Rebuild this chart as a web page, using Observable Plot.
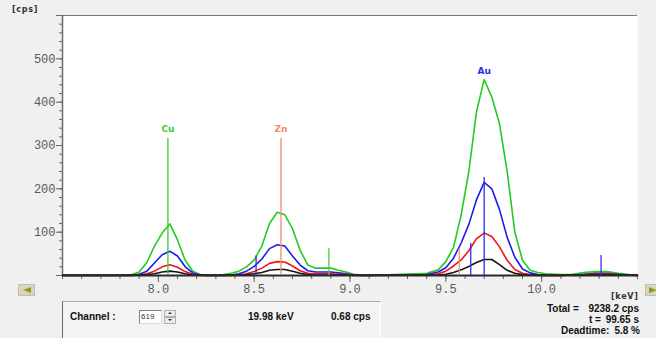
<!DOCTYPE html>
<html><head><meta charset="utf-8">
<script src="https://cdn.jsdelivr.net/npm/d3@7"></script>
<script src="https://cdn.jsdelivr.net/npm/@observablehq/plot@0.6"></script>
<style>
body{margin:0;background:#f0f0f0;}
#wrap{position:relative;width:656px;height:338px;overflow:hidden;font-family:"Liberation Sans",Arial,sans-serif;background:#f0f0f0;}
#chart{position:absolute;left:0;top:0;}
.t{position:absolute;font-weight:bold;font-size:10px;color:#111;white-space:pre;line-height:11px;}
.u{position:absolute;font-family:"DejaVu Sans",sans-serif;font-weight:bold;font-size:8px;color:#333;letter-spacing:0.7px;line-height:10px;}
#panel{position:absolute;left:62px;top:301px;width:317px;height:40px;border-top:1px solid #a8a8a8;border-left:1px solid #6c6c6c;border-right:1px solid #ffffff;background:#f3f3f3;}
#inp{position:absolute;left:139px;top:310px;width:20px;height:12px;background:#fff;border-top:1px solid #808080;border-left:1px solid #808080;border-bottom:1px solid #dcdcdc;border-right:1px solid #dcdcdc;font-size:8px;line-height:12px;color:#333;padding-left:1px;box-sizing:content-box;}
.spin{position:absolute;left:164px;width:10px;height:5px;background:#ececec;border:1px solid #b0b0b0;}
.spin .tri{left:3px;}
.btn{position:absolute;top:284px;width:17px;height:12px;background:#d6d6c4;border:1px solid #c0c0b0;box-sizing:border-box;}
.tri{position:absolute;width:0;height:0;}
</style></head><body>
<div id="wrap">
  <div id="chart"></div>
  <div class="u" style="left:12px;top:5px">[cps]</div>
  <div class="u" style="left:611px;top:292px">[keV]</div>
  <div class="btn" style="left:18px"><div class="tri" style="left:4px;top:2px;border-top:3.5px solid transparent;border-bottom:3.5px solid transparent;border-right:8px solid #9a9a10;"></div></div>
  <div class="btn" style="left:645px"><div class="tri" style="left:3px;top:2px;border-top:3.5px solid transparent;border-bottom:3.5px solid transparent;border-left:8px solid #9a9a10;"></div></div>
  <div id="panel"></div>
  <div class="t" style="left:70px;top:311px">Channel :</div>
  <div id="inp">619</div>
  <div class="spin" style="top:310px"><div class="tri" style="top:1px;border-left:2px solid transparent;border-right:2px solid transparent;border-bottom:2px solid #333;"></div></div>
  <div class="spin" style="top:317px"><div class="tri" style="top:1px;border-left:2px solid transparent;border-right:2px solid transparent;border-top:2px solid #333;"></div></div>
  <div class="t" style="left:248px;top:311px">19.98 keV</div>
  <div class="t" style="left:331px;top:311px">0.68 cps</div>
  <div class="t" style="left:547px;top:303px">Total =</div>
  <div class="t" style="right:17px;top:303px">9238.2 cps</div>
  <div class="t" style="left:589px;top:314px">t =</div>
  <div class="t" style="right:17px;top:314px">99.65 s</div>
  <div class="t" style="left:561px;top:325px">Deadtime:</div>
  <div class="t" style="right:16px;top:325px">5.8 %</div>
</div>
<script>
// spectrum energies (keV)
const energy = [7.50,7.80,7.86,7.90,7.94,7.98,8.02,8.06,8.10,8.14,8.18,8.22,8.26,8.34,8.38,8.42,8.46,8.50,8.54,8.58,8.62,8.66,8.70,8.74,8.78,8.82,8.86,8.90,8.94,8.98,9.02,9.06,9.10,9.40,9.46,9.50,9.54,9.58,9.62,9.66,9.70,9.74,9.78,9.82,9.86,9.90,9.94,9.98,10.02,10.10,10.16,10.22,10.28,10.34,10.40,10.46,10.50];
// counts (cps) of the four spectra
const greenSpec = [0,0,2,8,30,68,98,119,82,35,10,2,0,2,5,10,20,36,68,120,146,140,108,58,24,17,17,17,12,8,3,1,0,5,13,32,65,140,240,378,452,412,350,240,100,35,12,7,4,2,3,7,9,9,5,2,1];
const blueSpec  = [0,0,0,3,10,29,48,56,45,20,6,1,0,0,1,4,10,21,38,62,71,68,45,24,11,8,8,8,6,4,1,0,0,2,8,18,40,75,118,175,215,200,152,88,42,15,6,2,0,0,1,3,5,5,3,1,0];
const redSpec   = [0,0,0,1,4,10,20,25,19,9,3,0,0,0,0,1,4,9,17,28,32,31,22,11,5,4,4,4,3,2,0,0,0,1,4,10,22,36,57,85,98,90,66,35,14,5,2,0,0,0,1,2,4,4,2,1,0];
const blackSpec = [1,1,1,1,2,4,8,10,8,4,1,1,1,1,1,1,2,4,7,12,14,14,10,5,2,1,1,1,1,1,1,1,1,1,1,3,7,13,21,30,37,37,25,12,5,2,1,1,1,1,1,1,2,2,1,1,1];
const seriesValues = [greenSpec, blueSpec, redSpec, blackSpec];
const seriesColors = ["#22cc22", "#1c1cee", "#ee1818", "#141414"];

// element markers
const elementNames  = ["Cu", "Zn", "Au"];
const elementEnergy = [8.05, 8.64, 9.70];
const elementHeight = [316, 316, 226];
const elementColors = ["#33cc33", "#ee8a66", "#2c2cee"];
// small unlabeled markers
const minorEnergy = [8.51, 8.89, 9.57, 9.63, 10.31];
const minorHeight = [45, 62, 62, 74, 46];
const minorColors = ["#3434dd", "#44cc44", "#ee9070", "#3434dd", "#3434dd"];

// axis ticks
const yMajor = [0, 100, 200, 300, 400, 500, 600];
const yLabeled = [100, 200, 300, 400, 500];
const yMinor = d3.range(0, 601, 20);
const xMajor = [8.0, 8.5, 9.0, 9.5, 10.0];
const xMinor = d3.range(75, 106).map(d => d / 10);

const marks = [
  Plot.frame({fill: "white", stroke: null}),
  Plot.ruleY([600], {stroke: "#7a7a7a"}),
  Plot.axisY({ticks: yMinor, tickSize: 3, tickFormat: () => "", stroke: "#666", label: null}),
  Plot.axisY({ticks: yMajor, tickSize: 6, tickPadding: 1, tickFormat: d => yLabeled.includes(d) ? String(d) : "", stroke: "#666", fill: "#5a5a5a", label: null}),
  Plot.axisX({ticks: xMinor, tickSize: 4, tickFormat: () => "", stroke: "#666", label: null}),
  Plot.axisX({ticks: xMajor, tickSize: 7, tickPadding: 2, tickFormat: d => d.toFixed(1), stroke: "#666", fill: "#5a5a5a", label: null}),
  Plot.ruleX([7.5], {stroke: "#6a6a6a", strokeWidth: 1.5})
];

seriesValues.forEach((vals, s) => {
  const rows = energy.map((e, i) => ({e, c: vals[i]}));
  marks.push(Plot.line(rows, {x: "e", y: "c", stroke: seriesColors[s], strokeWidth: 1.6, strokeLinejoin: "round"}));
});

marks.push(Plot.ruleY([0], {stroke: "#2a2a2a", strokeWidth: 2}));

minorEnergy.forEach((e, i) => {
  marks.push(Plot.ruleX([{e, h: minorHeight[i]}], {x: "e", y1: 0, y2: "h", stroke: minorColors[i], strokeWidth: 1.3}));
});

elementEnergy.forEach((e, i) => {
  // label sits above the taller of the marker line and the local spectrum maximum
  let localMax = 0;
  energy.forEach((en, j) => { if (Math.abs(en - e) <= 0.05) seriesValues.forEach(v => { localMax = Math.max(localMax, v[j]); }); });
  const top = Math.max(elementHeight[i], localMax);
  marks.push(Plot.ruleX([{e, h: elementHeight[i]}], {x: "e", y1: 0, y2: "h", stroke: elementColors[i], strokeWidth: 1.3}));
  marks.push(Plot.text([{e, top, name: elementNames[i]}], {x: "e", y: "top", text: "name", dy: -9, fill: elementColors[i], fontWeight: "bold", fontSize: 9, fontFamily: "DejaVu Sans"}));
});

const chart = Plot.plot({
  width: 656,
  height: 300,
  marginLeft: 62,
  marginRight: 19,
  marginTop: 15,
  marginBottom: 25,
  x: {domain: [7.5, 10.5], axis: null, label: null},
  y: {domain: [0, 600], axis: null, label: null},
  style: {background: "transparent", fontFamily: "Liberation Mono", fontSize: "12px", overflow: "visible"},
  marks
});
document.getElementById("chart").appendChild(chart);
</script>
</body></html>
